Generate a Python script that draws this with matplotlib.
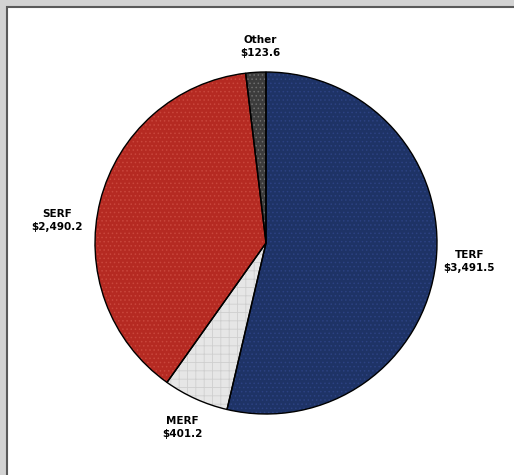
import numpy as np
import matplotlib.pyplot as plt
from matplotlib.patches import Rectangle

# Spending by fund ($ millions)
funds = ["TERF", "MERF", "SERF", "Other"]
amounts = [3491.5, 401.2, 2490.2, 123.6]
amount_labels = ["$3,491.5", "$401.2", "$2,490.2", "$123.6"]

colors = ["#1e3366", "#e6e6e6", "#b52a22", "#3c3c3c"]
dot_colors = ["#2c4282", "#cfcfcf", "#c9463c", "#6e6e6e"]
hatches = ["....", "++", "....", "...."]
# label centres in pie units (radius = 1)
label_xy = [(1.19, -0.11), (-0.49, -1.08), (-1.22, 0.13), (-0.035, 1.15)]

plt.rcParams['font.family'] = ['DejaVu Sans']
plt.rcParams['hatch.linewidth'] = 0.6

fig = plt.figure(figsize=(5.14, 4.75), dpi=100)
fig.patch.set_facecolor("#d3d3d3")

# white panel with a dark frame, offset from the top-left corner
fig.patches.append(Rectangle((6.5 / 514, -0.5), 2.0, (475 - 6.5) / 475 + 0.5,
                             transform=fig.transFigure, facecolor="white",
                             edgecolor="#5a5a5a", linewidth=1.5, zorder=-5))

r = 171
cx, cy = 266, 475 - 243
ax = fig.add_axes([(cx - 1.5 * r) / 514, (cy - 1.5 * r) / 475, 3 * r / 514, 3 * r / 475])

# clockwise from 12 o'clock
wedges, _ = ax.pie(amounts, colors=colors, startangle=90, counterclock=False,
                   wedgeprops=dict(linewidth=0))
# texture layer: hatch colour comes from edgecolor
tex, _ = ax.pie(amounts, colors=["none"] * 4, startangle=90, counterclock=False,
                wedgeprops=dict(linewidth=0))
for w, h, dc in zip(tex, hatches, dot_colors):
    w.set_hatch(h)
    w.set_edgecolor(dc)
# black outlines on top
ax.pie(amounts, colors=["none"] * 4, startangle=90, counterclock=False,
       wedgeprops=dict(linewidth=1.0, edgecolor="black"))

for (x, y), name, lab in zip(label_xy, funds, amount_labels):
    ax.text(x, y, f"{name}\n{lab}", ha="center", va="center",
            fontsize=7.5, fontweight="bold", linespacing=1.35)

ax.set_aspect("auto")
ax.set_xlim(-1.5, 1.5)
ax.set_ylim(-1.5, 1.5)
ax.axis("off")

fig.savefig("out.png", dpi=100, facecolor=fig.get_facecolor())
